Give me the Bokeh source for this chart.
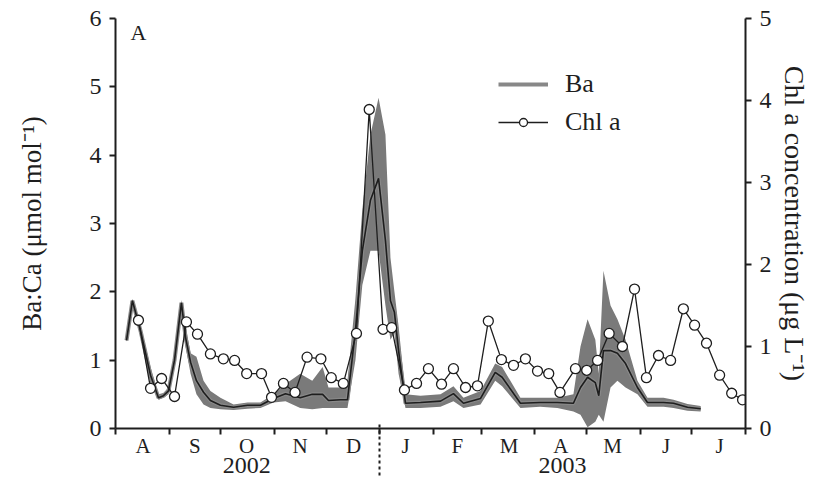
import pandas as pd
from bokeh.plotting import figure
from bokeh.models import Range1d, LinearAxis, FixedTicker, Legend, LegendItem, Label
from bokeh.embed import file_html
from bokeh.resources import INLINE

# x values: days since 1 Aug 2002
ba_day = [6.4, 9.8, 14.5, 20.3, 24.9, 27.8, 30.7, 34.2, 38.2, 40.6, 43.5, 46.9, 51, 55, 60.8,
          68.4, 76.5, 84, 91.5, 98.5, 107, 114, 120, 123.4, 130.4, 134.4, 139, 143, 147.7, 152.4,
          156.4, 159.3, 161.6, 164, 168, 176.7, 188.3, 195.8, 201.6, 211.5, 220, 224, 234.6, 246,
          256, 265.3, 269.4, 273.5, 278, 280, 282.7, 286.8, 290.8, 295.5, 302.4, 308.2, 317.5,
          323.3, 331.4, 339]
ba_mean = [1.29, 1.87, 1.43, 0.78, 0.45, 0.48, 0.55, 1.0, 1.84, 1.33, 0.97, 0.70, 0.53, 0.41,
           0.34, 0.31, 0.34, 0.34, 0.44, 0.51, 0.45, 0.50, 0.50, 0.41, 0.42, 0.42, 1.43, 2.6, 3.34,
           3.66, 2.75, 1.87, 1.7, 1.14, 0.37, 0.38, 0.40, 0.51, 0.37, 0.44, 0.82, 0.75, 0.37, 0.38,
           0.38, 0.37, 0.6, 0.75, 0.67, 0.48, 1.14, 1.14, 1.1, 0.95, 0.6, 0.38, 0.38, 0.37, 0.31, 0.29]
ba_lo = [1.27, 1.85, 1.35, 0.65, 0.42, 0.45, 0.5, 0.95, 1.8, 1.2, 0.8, 0.5, 0.35, 0.3, 0.28,
         0.27, 0.29, 0.3, 0.38, 0.4, 0.3, 0.28, 0.3, 0.3, 0.3, 0.3, 1.0, 2.1, 2.6, 2.6, 1.8, 1.3,
         1.4, 0.8, 0.3, 0.3, 0.32, 0.4, 0.3, 0.35, 0.7, 0.62, 0.3, 0.32, 0.3, 0.25, 0.2, 0.02,
         0.1, 0.2, 0.1, 0.6, 0.7, 0.6, 0.5, 0.32, 0.32, 0.3, 0.26, 0.25]
ba_hi = [1.31, 1.9, 1.5, 0.9, 0.5, 0.52, 0.6, 1.05, 1.88, 1.5, 1.1, 1.05, 0.7, 0.55, 0.45,
         0.35, 0.38, 0.38, 0.5, 0.65, 0.8, 0.7, 0.9, 0.6, 0.6, 0.7, 1.9, 3.2, 4.3, 4.84, 4.3, 2.5,
         2.0, 1.5, 0.5, 0.48, 0.5, 0.62, 0.45, 0.55, 0.95, 0.9, 0.45, 0.45, 0.45, 0.5, 1.2, 1.6,
         1.3, 0.8, 2.31, 1.8, 1.6, 1.3, 0.7, 0.45, 0.45, 0.42, 0.36, 0.33]

chl_day = [13.3, 20.3, 26.7, 34.2, 41.1, 47.5, 55, 62.5, 69, 76, 84.6, 90.4, 97.3, 104, 111,
           119, 125, 132, 139.6, 147, 155, 160, 167.4, 174.4, 181.3, 188.9, 195.8, 202.8, 209.7,
           216, 223.6, 230.6, 237.5, 244.5, 251, 257.5, 266.5, 273, 279.3, 286, 293.7, 300.7,
           307.6, 314.6, 321.6, 329, 335.5, 342.4, 350, 357, 363.3]
chl_val = [1.32, 0.49, 0.61, 0.39, 1.30, 1.15, 0.91, 0.85, 0.83, 0.67, 0.67, 0.38, 0.55, 0.44,
           0.87, 0.85, 0.62, 0.55, 1.16, 3.89, 1.21, 1.23, 0.47, 0.55, 0.73, 0.54, 0.73, 0.50,
           0.52, 1.31, 0.84, 0.77, 0.85, 0.70, 0.67, 0.44, 0.73, 0.71, 0.83, 1.16, 1.00, 1.70,
           0.62, 0.89, 0.83, 1.46, 1.26, 1.04, 0.65, 0.43, 0.35]

month_letters = ["A", "S", "O", "N", "D", "J", "F", "M", "A", "M", "J", "J"]
year_labels = ["2002", "2003"]
left_ticks = [0, 1, 2, 3, 4, 5, 6]
right_ticks = [0, 1, 2, 3, 4, 5]

start = pd.Timestamp("2002-08-01")
month_starts = pd.date_range("2002-08-01", "2003-08-01", freq="MS")
month_days = [int((d - start).days) for d in month_starts]
mids = [int(round((a + b) / 2)) for a, b in zip(month_days[:-1], month_days[1:])]
jan1 = int((pd.Timestamp("2003-01-01") - start).days)
year_centers = [int(round(jan1 / 2)), int(round((jan1 + month_days[-1]) / 2))]

SERIF = "Liberation Serif"
INK = "#1e1e1e"

p = figure(width=812, height=479, output_backend="svg", toolbar_location=None,
           x_range=Range1d(0, month_days[-1]), y_range=Range1d(0, 6),
           min_border_left=115, min_border_right=65, min_border_top=18, min_border_bottom=51)
p.outline_line_color = None
p.xgrid.visible = False
p.ygrid.visible = False
p.background_fill_color = "white"

p.extra_y_ranges = {"chl": Range1d(0, 5)}

# Ba band and mean
p.varea(x=ba_day, y1=ba_lo, y2=ba_hi, fill_color="#7a7a7a", fill_alpha=1.0)
ba_gray = p.line(ba_day, ba_mean, line_color="#888888", line_width=4)
p.line(ba_day, ba_mean, line_color=INK, line_width=1.6)

# Chl a
chl_line = p.line(chl_day, chl_val, y_range_name="chl", line_color=INK, line_width=1.3)
chl_pts = p.scatter(chl_day, chl_val, y_range_name="chl", size=10, marker="circle",
                    fill_color="white", line_color=INK, line_width=1.3)

# x axis (months)
xa = p.xaxis[0]
xa.ticker = FixedTicker(ticks=mids, minor_ticks=month_days)
xa.major_label_overrides = {m: l for m, l in zip(mids, month_letters)}
xa.major_tick_out = 0
xa.major_tick_in = 0
xa.minor_tick_out = 6
xa.minor_tick_in = 0
xa.minor_tick_line_width = 2
xa.minor_tick_line_color = INK
xa.axis_line_width = 2
xa.axis_line_color = INK
xa.major_label_text_font = SERIF
xa.major_label_text_font_size = "21px"
xa.major_label_text_color = INK
xa.major_label_standoff = -1

# second x axis: year labels
xy = LinearAxis(ticker=FixedTicker(ticks=year_centers, minor_ticks=[]))
xy.major_label_overrides = {c: l for c, l in zip(year_centers, year_labels)}
xy.axis_line_color = None
xy.major_tick_out = 0
xy.major_tick_in = 0
xy.minor_tick_out = 0
xy.minor_tick_in = 0
xy.major_label_text_font = SERIF
xy.major_label_text_font_size = "24px"
xy.major_label_text_color = INK
xy.major_label_standoff = -3
p.add_layout(xy, "below")

# third x axis: dotted divider between the years, drawn upward to the frame
xd = LinearAxis(ticker=FixedTicker(ticks=[], minor_ticks=[jan1]))
xd.axis_line_color = None
xd.major_tick_out = 0
xd.major_tick_in = 0
xd.minor_tick_out = 0
xd.minor_tick_in = 52
xd.minor_tick_line_width = 2
xd.minor_tick_line_color = INK
xd.minor_tick_line_dash = "3 3"
xd.major_label_standoff = 0
xd.major_label_text_font_size = "1px"
p.add_layout(xd, "below")

# left y axis
ya = p.yaxis[0]
ya.ticker = FixedTicker(ticks=left_ticks, minor_ticks=[])
ya.major_tick_out = 6
ya.major_tick_in = 0
ya.major_tick_line_width = 2
ya.major_tick_line_color = INK
ya.axis_line_width = 2
ya.axis_line_color = INK
ya.major_label_text_font = SERIF
ya.major_label_text_font_size = "24px"
ya.major_label_text_color = INK
ya.major_label_standoff = 8
ya.axis_label = "Ba:Ca (μmol mol⁻¹)"
ya.axis_label_text_font = SERIF
ya.axis_label_text_font_size = "27px"
ya.axis_label_text_font_style = "normal"
ya.axis_label_text_color = INK
ya.axis_label_standoff = 40

ra = LinearAxis(y_range_name="chl", ticker=FixedTicker(ticks=right_ticks, minor_ticks=[]))
ra.major_tick_out = 6
ra.major_tick_in = 0
ra.major_tick_line_width = 2
ra.major_tick_line_color = INK
ra.axis_line_width = 2
ra.axis_line_color = INK
ra.major_label_text_font = SERIF
ra.major_label_text_font_size = "24px"
ra.major_label_text_color = INK
ra.major_label_standoff = 8
ra.axis_label = "Chl a concentration (μg L⁻¹)"
ra.axis_label_text_font = SERIF
ra.axis_label_text_font_size = "28px"
ra.axis_label_text_font_style = "normal"
ra.axis_label_text_color = INK
ra.axis_label_standoff = 4
p.add_layout(ra, "right")

# panel letter
p.add_layout(Label(x=0, y=6, x_offset=15, y_offset=-1, text="A", text_baseline="top",
                   text_font=SERIF, text_font_size="22px", text_color=INK))

legend = Legend(items=[LegendItem(label="Ba", renderers=[ba_gray]),
                       LegendItem(label="Chl a", renderers=[chl_line, chl_pts])],
                location=(383, 291), orientation="vertical")
legend.margin = 0
legend.padding = 0
legend.spacing = 8
legend.glyph_width = 50
legend.glyph_height = 20
legend.label_height = 20
legend.label_standoff = 17
legend.label_text_font = SERIF
legend.label_text_font_size = "26px"
legend.label_text_color = INK
legend.border_line_alpha = 0
legend.background_fill_alpha = 0
p.add_layout(legend)

open("out.html", "w").write(file_html(p, INLINE))
